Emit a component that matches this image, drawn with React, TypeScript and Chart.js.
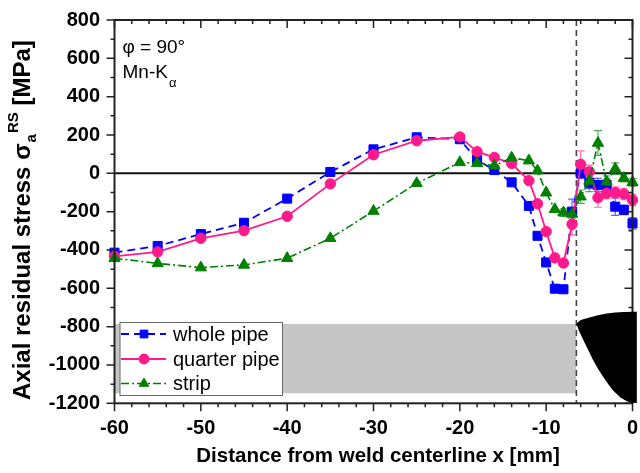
import React, { useEffect, useRef } from "react";
import { Chart, registerables } from "chart.js";
import { drawPoint } from "chart.js/helpers";

Chart.register(...registerables);

// ---- data ----
const xValues = [-60, -55, -50, -45, -40, -35, -30, -25, -20, -18, -16, -14, -12, -11, -10, -9, -8, -7, -6, -5, -4, -3, -2, -1, 0];

const wholePipe = [-414, -379, -317, -258, -132, 7, 125, 188, 178, 69, 17, -47, -170, -326, -465, -602, -605, -200, 0, -50, -61, -61, -174, -191, -261];
const wholePipeErr = [0, 0, 0, 0, 0, 0, 0, 0, 0, 0, 0, 0, 0, 0, 0, 0, 0, 65, 25, 30, 35, 30, 45, 25, 30];

const quarterPipe = [-433, -410, -339, -299, -224, -55, 97, 170, 190, 113, 83, 51, -38, -159, -304, -441, -468, -266, 47, 8, -127, -104, -100, -108, -139];
const quarterPipeErr = [0, 0, 0, 0, 0, 0, 0, 0, 0, 0, 0, 0, 0, 0, 0, 0, 0, 55, 70, 35, 50, 30, 30, 30, 30];

const strip = [-443, -470, -492, -478, -443, -339, -197, -52, 57, 52, 40, 81, 66, 14, -101, -188, -205, -212, -122, -40, 158, -44, 24, -25, -47];
const stripErr = [0, 0, 0, 0, 0, 0, 0, 0, 0, 0, 0, 0, 0, 0, 0, 0, 20, 25, 35, 55, 65, 30, 30, 20, 20];

const xTicks = [-60, -50, -40, -30, -20, -10, 0];
const yTicks = [-1200, -1000, -800, -600, -400, -200, 0, 200, 400, 600, 800];

const weldLineX = -6.5;
const bandX = [-60, -6.5];
const bandY = [-1148, -786];
const weldTopX = [-6.5, -6.0, -5.0, -4.0, -3.0, -2.0, -1.0, 0, 0.5];
const weldTopY = [-784, -766, -752, -740, -731, -726, -723, -722, -722];
const weldBottomX = [-6.5, -6.2, -5.7, -5.1, -4.6, -4.0, -3.4, -2.8, -2.3, -1.4, -0.6, 0, 0.5];
const weldBottomY = [-784, -822, -870, -925, -972, -1020, -1061, -1100, -1131, -1170, -1191, -1197, -1198];

const FONT = "'Liberation Sans', Arial, Helvetica, sans-serif";

export default function App() {
  const ref = useRef<HTMLCanvasElement | null>(null);

  useEffect(() => {
    const canvas = ref.current;
    if (!canvas) return;

    const pts = (vals: number[]) => vals.map((v, i) => ({ x: xValues[i], y: v }));

    const decor = {
      id: "decor",
      beforeDatasetsDraw(chart: any) {
        const { ctx, chartArea: a, scales } = chart;
        const xs = scales.x, ys = scales.y;
        ctx.save();
        // gray band
        const bx0 = xs.getPixelForValue(bandX[0]);
        const bx1 = xs.getPixelForValue(bandX[1]);
        const by0 = ys.getPixelForValue(bandY[1]);
        const by1 = ys.getPixelForValue(bandY[0]);
        ctx.fillStyle = "#c6c6c6";
        ctx.fillRect(bx0, by0, bx1 - bx0, by1 - by0);
        // zero line
        const y0 = ys.getPixelForValue(0);
        ctx.strokeStyle = "#111";
        ctx.lineWidth = 2;
        ctx.beginPath();
        ctx.moveTo(a.left, y0);
        ctx.lineTo(a.right, y0);
        ctx.stroke();
        // dashed vertical line
        const xd = xs.getPixelForValue(weldLineX);
        ctx.strokeStyle = "#444";
        ctx.lineWidth = 1.6;
        ctx.setLineDash([6, 4]);
        ctx.beginPath();
        ctx.moveTo(xd, a.top);
        ctx.lineTo(xd, a.bottom);
        ctx.stroke();
        ctx.setLineDash([]);
        // error bars
        chart.data.datasets.forEach((ds: any) => {
          const errs: number[] = ds.errors || [];
          ctx.strokeStyle = ds.errColor;
          ctx.lineWidth = 1.2;
          ds.data.forEach((p: any, i: number) => {
            const e = errs[i];
            if (!e) return;
            const px = xs.getPixelForValue(p.x);
            const pt = ys.getPixelForValue(p.y + e);
            const pb = ys.getPixelForValue(p.y - e);
            ctx.beginPath();
            ctx.moveTo(px, pt); ctx.lineTo(px, pb);
            ctx.moveTo(px - 4, pt); ctx.lineTo(px + 4, pt);
            ctx.moveTo(px - 4, pb); ctx.lineTo(px + 4, pb);
            ctx.stroke();
          });
        });
        ctx.restore();
      },
      afterDraw(chart: any) {
        const { ctx, chartArea: a, scales } = chart;
        const xs = scales.x, ys = scales.y;
        ctx.save();
        // frame
        ctx.strokeStyle = "#222";
        ctx.lineWidth = 2;
        ctx.strokeRect(a.left, a.top, a.right - a.left, a.bottom - a.top);
        // ticks
        ctx.lineWidth = 1.5;
        ctx.beginPath();
        for (let v = -60; v <= 0; v += 2) {
          const px = xs.getPixelForValue(v);
          const major = xTicks.includes(v);
          const len = major ? 8 : 4;
          ctx.moveTo(px, a.bottom); ctx.lineTo(px, a.bottom + len);
          ctx.moveTo(px, a.top); ctx.lineTo(px, a.top + len);
        }
        for (let v = -1200; v <= 800; v += 100) {
          const py = ys.getPixelForValue(v);
          const major = yTicks.includes(v);
          const len = major ? 8 : 4;
          ctx.moveTo(a.left, py); ctx.lineTo(a.left - len, py);
          ctx.moveTo(a.right, py); ctx.lineTo(a.right - len, py);
        }
        ctx.stroke();

        // weld bead (covers right axis like the reference)
        ctx.beginPath();
        weldTopX.forEach((v, i) => {
          const px = xs.getPixelForValue(v), py = ys.getPixelForValue(weldTopY[i]);
          if (i === 0) ctx.moveTo(px, py); else ctx.lineTo(px, py);
        });
        for (let i = weldBottomX.length - 1; i >= 0; i--) {
          ctx.lineTo(xs.getPixelForValue(weldBottomX[i]), ys.getPixelForValue(weldBottomY[i]));
        }
        ctx.closePath();
        ctx.fillStyle = "#000";
        ctx.fill();

        // x title
        ctx.fillStyle = "#000";
        ctx.font = `bold 20.5px ${FONT}`;
        ctx.textAlign = "center";
        ctx.textBaseline = "alphabetic";
        ctx.fillText("Distance from weld centerline x [mm]", 378, 462);

        // y title (rotated, with sub/superscripts)
        ctx.save();
        ctx.translate(30, 400);
        ctx.rotate(-Math.PI / 2);
        ctx.textAlign = "left";
        ctx.font = `bold 24px ${FONT}`;
        const t1 = "Axial residual stress \u03c3";
        ctx.fillText(t1, 0, 0);
        let cx = ctx.measureText(t1).width + 1;
        ctx.font = `bold 15px ${FONT}`;
        ctx.fillText("a", cx, 6);
        cx += ctx.measureText("a").width + 1;
        ctx.fillText("RS", cx, -12);
        cx += ctx.measureText("RS").width;
        ctx.font = `bold 24px ${FONT}`;
        ctx.fillText(" [MPa]", cx, 0);
        ctx.restore();

        // annotation
        ctx.textAlign = "left";
        ctx.font = `19px ${FONT}`;
        ctx.fillText("\u03c6 = 90\u00b0", 122.5, 52.5);
        ctx.fillText("Mn-K", 122.5, 78.3);
        const wk = ctx.measureText("Mn-K").width;
        ctx.font = `13px ${FONT}`;
        ctx.fillText("\u03b1", 122.5 + wk + 1, 86.5);

        // legend
        const lx = 120, ly = 322.5, lw = 162.5, lh = 73;
        ctx.fillStyle = "#fff";
        ctx.fillRect(lx, ly, lw, lh);
        ctx.strokeStyle = "#666";
        ctx.lineWidth = 1;
        ctx.strokeRect(lx, ly, lw, lh);
        const rows = [334, 359, 383.5];
        chart.data.datasets.forEach((ds: any, i: number) => {
          const ry = rows[i];
          ctx.strokeStyle = ds.borderColor;
          ctx.lineWidth = ds.borderWidth;
          ctx.setLineDash(ds.borderDash || []);
          ctx.beginPath();
          ctx.moveTo(lx + 1, ry);
          ctx.lineTo(lx + 46, ry);
          ctx.stroke();
          ctx.setLineDash([]);
          ctx.fillStyle = ds.backgroundColor;
          ctx.strokeStyle = ds.backgroundColor;
          ctx.lineWidth = 1;
          drawPoint(ctx, { pointStyle: ds.pointStyle, radius: ds.legendRadius, borderWidth: 1, rotation: 0 }, lx + 24, ry);
          ctx.fillStyle = "#000";
          ctx.font = `20px ${FONT}`;
          ctx.textBaseline = "middle";
          ctx.fillText(ds.label, lx + 53, ry + 1);
          ctx.textBaseline = "alphabetic";
        });
        ctx.restore();
      },
    };

    const tickFont = { family: FONT, size: 20, weight: "bold" as const };

    const chart = new Chart(canvas, {
      type: "line",
      data: {
        datasets: [
          {
            label: "whole pipe",
            data: pts(wholePipe),
            errors: wholePipeErr,
            errColor: "rgba(40,40,255,0.75)",
            borderColor: "#0000ff",
            backgroundColor: "#0000ff",
            borderWidth: 1.8,
            borderDash: [8, 5],
            pointStyle: "rect",
            pointRadius: 6.4,
            legendRadius: 5.5,
            pointBorderWidth: 1,
            pointBorderColor: "#0000ff",
            pointBackgroundColor: "#0000ff",
            tension: 0,
            order: 3,
            clip: false,
          } as any,
          {
            label: "quarter pipe",
            data: pts(quarterPipe),
            errors: quarterPipeErr,
            errColor: "rgba(255,60,150,0.75)",
            borderColor: "#ff1a8c",
            backgroundColor: "#ff1a8c",
            borderWidth: 1.8,
            borderDash: [],
            pointStyle: "circle",
            pointRadius: 5.2,
            legendRadius: 5,
            pointBorderWidth: 1,
            pointBorderColor: "#ff1a8c",
            pointBackgroundColor: "#ff1a8c",
            tension: 0,
            order: 2,
            clip: false,
          } as any,
          {
            label: "strip",
            data: pts(strip),
            errors: stripErr,
            errColor: "rgba(30,140,30,0.75)",
            borderColor: "#008000",
            backgroundColor: "#008000",
            borderWidth: 1.6,
            borderDash: [8, 3, 2, 3],
            pointStyle: "triangle",
            pointRadius: 6.5,
            legendRadius: 5.5,
            pointBorderWidth: 1,
            pointBorderColor: "#008000",
            pointBackgroundColor: "#008000",
            tension: 0,
            order: 1,
            clip: false,
          } as any,
        ],
      },
      options: {
        responsive: false,
        animation: false,
        layout: { padding: { left: 0, right: 3.5, top: 20, bottom: 0 } },
        plugins: { legend: { display: false }, tooltip: { enabled: false } },
        scales: {
          x: {
            type: "linear",
            min: -60,
            max: 0,
            grid: { display: false, drawTicks: false },
            border: { display: false },
            ticks: { stepSize: 10, color: "#000", font: tickFont, padding: 13, maxRotation: 0, autoSkip: false, callback: (v: any) => String(v) },
            afterFit(s: any) {
              s.height = 69.7;
              s.paddingLeft = 0;
              s.paddingRight = 0;
            },
          },
          y: {
            type: "linear",
            min: -1200,
            max: 800,
            grid: { display: false, drawTicks: false },
            border: { display: false },
            ticks: { stepSize: 200, color: "#000", font: tickFont, padding: 14.5, autoSkip: false, callback: (v: any) => String(v) },
            afterFit(s: any) {
              s.width = 114.5;
              s.paddingTop = 0;
              s.paddingBottom = 0;
            },
          },
        },
      },
      plugins: [decor],
    });

    return () => chart.destroy();
  }, []);

  return (
    <div style={{ position: "absolute", left: 0, top: 0, width: 640, height: 473, background: "#fff" }}>
      <canvas ref={ref} width={640} height={473} style={{ display: "block", width: 640, height: 473 }} />
    </div>
  );
}
